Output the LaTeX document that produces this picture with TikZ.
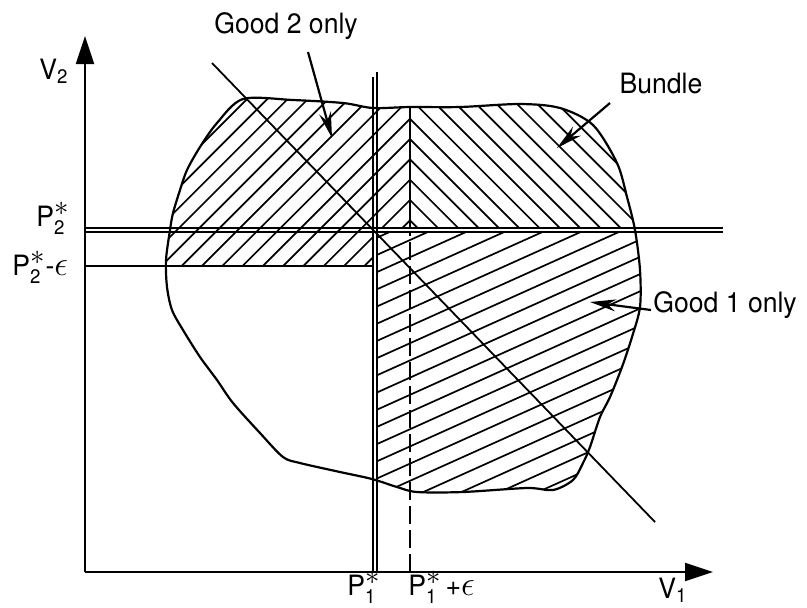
\documentclass[tikz,border=0pt]{standalone}
\usepackage{amsmath}
\usepackage{fontspec}
\setmainfont[FakeStretch=0.95]{TeX Gyre Heros}
\usetikzlibrary{arrows.meta}
\newcommand{\bndry}{plot[smooth cycle,tension=0.5] coordinates {(243,99) (293,100) (343,103) (373,108) (410,107) (460,107) (520,104) (560,108) (593,125) (617,163) (627,197) (635,230) (640,270) (640,307) (632,337) (622,367) (610,397) (600,417) (590,447) (583,463) (573,480) (553,490) (527,488) (463,492) (417,492) (397,487) (372,479) (340,472) (300,463) (283,457) (260,433) (233,403) (217,380) (200,357) (183,330) (172,310) (167,287) (166,260) (170,230) (173,213) (180,190) (187,170) (200,147) (217,123)}}
\newcommand{\pstar}[1]{P$^{\textstyle\ast}_{\text{#1}}$}
\newcommand{\eps}{{\fontsize{19}{19}\selectfont$\epsilon$}}
\tikzset{
  hatch/.style={line width=0.85pt},
  dbl/.style={line width=0.9pt},
  lbl/.style={font=\fontsize{14}{16}\selectfont,inner sep=0pt},
  pointer/.style={line width=1.1pt,-{Stealth[length=13pt,width=6pt]}},
}

\begin{document}
\begin{tikzpicture}[x=0.5pt,y=-0.5pt]
  \useasboundingbox (0,0) rectangle (807,607);
  % good 2 only: / hatching, mirrored into bundle at P1*+eps
  \begin{scope}
    \clip \bndry;
    \clip (0,0) -- (410,0) -- (410,228) -- (373,228) -- (373,266) -- (0,266) -- cycle;
    \foreach \k in {-8,...,14}{
      \pgfmathsetmacro{\c}{407+20.3*\k}
      \draw[hatch] (\c-320,320) -- (\c-60,60);
    }
  \end{scope}
  \begin{scope}
    \clip \bndry;
    \clip (410,0) rectangle (700,228);
    \foreach \k in {-8,...,14}{
      \pgfmathsetmacro{\d}{413-20.3*\k}
      \draw[hatch] (\d+60,60) -- (\d+260,260);
    }
  \end{scope}
  % good 1 only: shallow hatching
  \begin{scope}
    \clip \bndry;
    \clip (377,232) rectangle (700,600);
    \foreach \k in {-3,...,22}{
      \pgfmathsetmacro{\b}{441.7+17.2*\k}
      \draw[hatch] (360,\b-162) -- (660,\b-297);
    }
  \end{scope}
  \draw[line width=1.1pt] \bndry;

  % axes
  \coordinate (O) at (85,572);
  \coordinate (ytop) at (85,36);
  \coordinate (xend) at (713,572);
  \draw[line width=1.1pt,-{Triangle[length=14pt,width=9pt]}] (O) -- (ytop);
  \draw[line width=1.1pt,-{Triangle[length=14pt,width=9pt]}] (O) -- (xend);

  % price lines
  \coordinate (p2a) at (85,228);   \coordinate (p2b) at (723,228);
  \coordinate (p2c) at (85,232);   \coordinate (p2d) at (723,232);
  \coordinate (p1a) at (373,77);   \coordinate (p1b) at (373,572);
  \coordinate (p1c) at (377,72);   \coordinate (p1d) at (377,572);
  \coordinate (p2eL) at (85,266);  \coordinate (p2eR) at (373,266);
  \coordinate (p1eT) at (410,107); \coordinate (p1eM) at (410,228);
  \coordinate (p1eN) at (410,232); \coordinate (p1eB) at (410,572);
  \draw[dbl] (p2a) -- (p2b);
  \draw[dbl] (p2c) -- (p2d);
  \draw[dbl] (p1a) -- (p1b);
  \draw[dbl] (p1c) -- (p1d);
  \draw[dbl] (p2eL) -- (p2eR);
  \draw[dbl] (p1eT) -- (p1eM);
  \draw[dbl,dash pattern=on 9pt off 3pt] (p1eB) -- (p1eN);

  % diagonal
  \coordinate (dgA) at (212,63);
  \coordinate (dgB) at (655,522);
  \draw[line width=0.9pt] (dgA) -- (dgB);

  % labels
  \node[lbl,anchor=base] (g2lab) at (286,33) {Good 2 only};
  \node[lbl,anchor=base] (bdlab) at (661,93) {Bundle};
  \node[lbl,anchor=base] (g1lab) at (725,312) {Good 1 only};
  \coordinate (g2tail) at (308,52);  \coordinate (g2tip) at (332,138);
  \coordinate (bdtail) at (610,103); \coordinate (bdtip) at (557,148);
  \coordinate (g1tail) at (651,310); \coordinate (g1tip) at (590,302);
  \draw[pointer] (g2tail) -- (g2tip);
  \draw[pointer] (bdtail) -- (bdtip);
  \draw[pointer] (g1tail) -- (g1tip);

  \node[lbl,anchor=base west] (v2) at (39,79) {V$_{\text{2}}$};
  \node[lbl,anchor=base west] (p2) at (36,226) {\pstar{2}};
  \node[lbl,anchor=base west] (p2e) at (12,275) {\pstar{2}-\eps};
  \node[lbl,anchor=base west] (p1) at (347,595) {\pstar{1}};
  \node[lbl,anchor=base west] (p1e) at (408,595) {\pstar{1}\kern2pt+\eps};
  \node[lbl,anchor=base west] (v1) at (658,598) {V$_{\text{1}}$};
\end{tikzpicture}
\end{document}
